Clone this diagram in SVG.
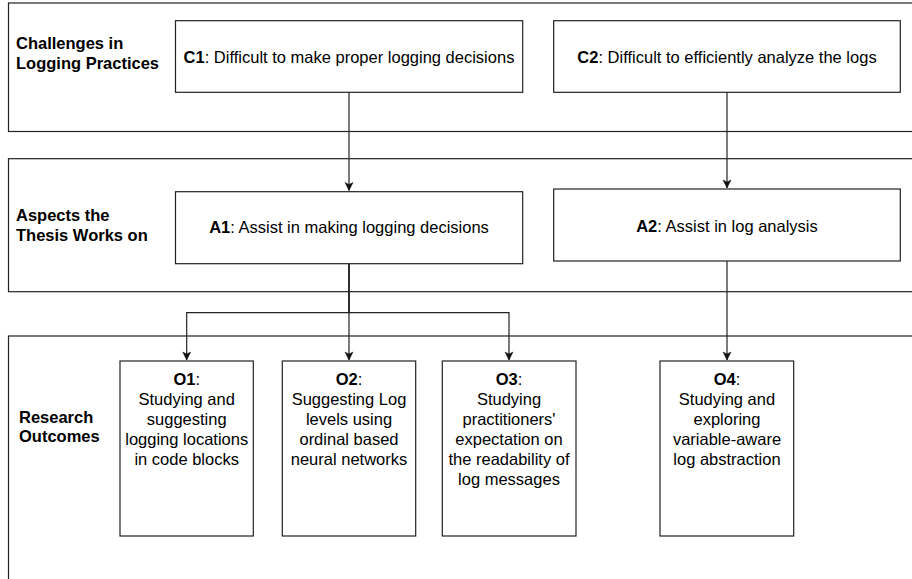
<svg xmlns="http://www.w3.org/2000/svg" width="912" height="579" viewBox="0 0 912 579">
  <style>
    text { font-family: "Liberation Sans", Arial, sans-serif; font-size: 16.5px; fill: #000; }
    .b { font-weight: bold; }
    .c { text-anchor: middle; }
    .band { fill: #fff; stroke: #222; stroke-width: 1.2; }
    .box { fill: #fff; stroke: #222; stroke-width: 1.2; }
    .edge { fill: none; stroke: #222; stroke-width: 1.2; }
  </style>
  <defs>
    <marker id="arr" markerWidth="10" markerHeight="10" refX="9" refY="5" orient="auto" markerUnits="userSpaceOnUse">
      <path d="M1,1 L9,5 L1,9 L3,5 Z" fill="#111" stroke="#111" stroke-width="0.5"/>
    </marker>
  </defs>
  <rect width="912" height="579" fill="#fff"/>

  <g id="band-challenges">
    <rect class="band" x="8.5" y="3" width="1000" height="128.5"/>
    <text class="b" x="16" y="49">Challenges in</text>
    <text class="b" x="16" y="69">Logging Practices</text>
  </g>
  <g id="band-aspects">
    <rect class="band" x="8.5" y="158.7" width="1000" height="133"/>
    <text class="b" x="16" y="221">Aspects the</text>
    <text class="b" x="16" y="241">Thesis Works on</text>
  </g>
  <g id="band-outcomes">
    <rect class="band" x="8.5" y="336" width="1000" height="300"/>
    <text class="b" x="19" y="423">Research</text>
    <text class="b" x="19" y="442">Outcomes</text>
  </g>

  <g id="connectors">
    <path class="edge" d="M349,92.3 V190.5" marker-end="url(#arr)"/>
    <path class="edge" d="M727,92.3 V188" marker-end="url(#arr)"/>
    <path class="edge" d="M349,263.7 V360" marker-end="url(#arr)"/>
    <path class="edge" d="M349,263.7 V312.7 H186.7 V360" marker-end="url(#arr)"/>
    <path class="edge" d="M349,263.7 V312.7 H509 V360" marker-end="url(#arr)"/>
    <path class="edge" d="M727,261 V360" marker-end="url(#arr)"/>
  </g>

  <g id="C1">
    <rect class="box" x="175.5" y="20.7" width="347.2" height="71.6"/>
    <text class="c" x="349" y="63"><tspan class="b">C1</tspan>: Difficult to make proper logging decisions</text>
  </g>
  <g id="C2">
    <rect class="box" x="553.7" y="20.7" width="346.6" height="71.6"/>
    <text class="c" x="727" y="63"><tspan class="b">C2</tspan>: Difficult to efficiently analyze the logs</text>
  </g>
  <g id="A1">
    <rect class="box" x="175.5" y="191.7" width="347.2" height="72"/>
    <text class="c" x="349" y="233"><tspan class="b">A1</tspan>: Assist in making logging decisions</text>
  </g>
  <g id="A2">
    <rect class="box" x="553.7" y="189" width="346.6" height="72"/>
    <text class="c" x="727" y="232"><tspan class="b">A2</tspan>: Assist in log analysis</text>
  </g>

  <g id="O1">
    <rect class="box" x="120" y="361" width="133.3" height="175"/>
    <text class="c" x="186.7" y="384.5"><tspan class="b">O1</tspan>:</text>
    <text class="c" x="186.7" y="405">Studying and</text>
    <text class="c" x="186.7" y="425">suggesting</text>
    <text class="c" x="186.7" y="445">logging locations</text>
    <text class="c" x="186.7" y="465">in code blocks</text>
  </g>
  <g id="O2">
    <rect class="box" x="282.3" y="361" width="133.4" height="175"/>
    <text class="c" x="349" y="384.5"><tspan class="b">O2</tspan>:</text>
    <text class="c" x="349" y="405">Suggesting Log</text>
    <text class="c" x="349" y="425">levels using</text>
    <text class="c" x="349" y="445">ordinal based</text>
    <text class="c" x="349" y="465">neural networks</text>
  </g>
  <g id="O3">
    <rect class="box" x="442.3" y="361" width="133.7" height="175"/>
    <text class="c" x="509" y="384.5"><tspan class="b">O3</tspan>:</text>
    <text class="c" x="509" y="405">Studying</text>
    <text class="c" x="509" y="425">practitioners'</text>
    <text class="c" x="509" y="445">expectation on</text>
    <text class="c" x="509" y="465">the readability of</text>
    <text class="c" x="509" y="485">log messages</text>
  </g>
  <g id="O4">
    <rect class="box" x="660" y="361" width="133.7" height="175"/>
    <text class="c" x="727" y="384.5"><tspan class="b">O4</tspan>:</text>
    <text class="c" x="727" y="405">Studying and</text>
    <text class="c" x="727" y="425">exploring</text>
    <text class="c" x="727" y="445">variable-aware</text>
    <text class="c" x="727" y="465">log abstraction</text>
  </g>
</svg>
